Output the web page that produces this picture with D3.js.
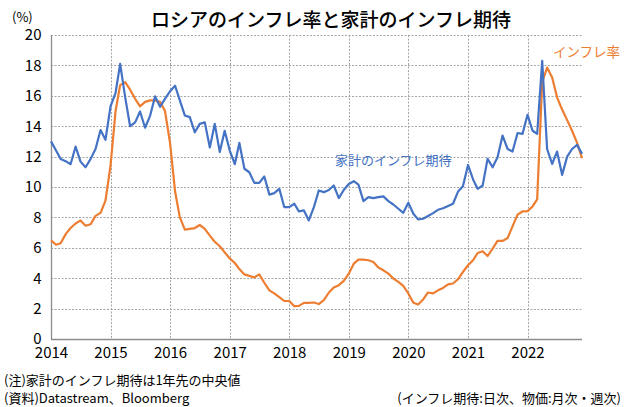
<!DOCTYPE html>
<html>
<head>
<meta charset="utf-8">
<script src="https://cdn.jsdelivr.net/npm/d3@7"></script>
<style>
  body { margin: 0; background: #fff; }
  text { font-family: "Noto Sans CJK JP", "Noto Sans", sans-serif; }
</style>
</head>
<body>
<div id="chart"></div>
<script>
// monthly points, first one sits on 2014-01
var startMonth = new Date(2014, 0, 1);

// household inflation expectations (1 year ahead, median), %
var expectations = [
  13.0, 12.4, 11.85, 11.7, 11.5, 12.66, 11.67, 11.3, 11.85, 12.5, 13.75, 13.1,
  15.3, 16.2, 18.1, 15.9, 14.0, 14.25, 14.97, 13.9, 14.7, 15.96, 15.28, 15.8,
  16.3, 16.66, 15.7, 14.7, 14.6, 13.6, 14.15, 14.25, 12.6, 14.15, 12.3, 13.7,
  12.4, 11.5, 12.9, 11.2, 10.97, 10.27, 10.27, 10.69, 9.5, 9.6, 9.88, 8.68,
  8.68, 8.9, 8.4, 8.46, 7.8, 8.68, 9.77, 9.66, 9.8, 10.1, 9.27, 9.8,
  10.2, 10.38, 10.16, 9.07, 9.33, 9.27, 9.33, 9.38, 9.07, 8.85, 8.57, 8.3,
  8.96, 8.24, 7.87, 7.91, 8.09, 8.28, 8.5, 8.6, 8.75, 8.9, 9.7, 10.05,
  11.45, 10.5, 9.88, 10.1, 11.85, 11.3, 11.95, 13.38, 12.5, 12.33, 13.55, 13.49,
  14.75, 13.7, 13.49, 18.3, 12.5, 11.52, 12.33, 10.8, 12.0, 12.5, 12.77, 12.18
];

// consumer price inflation, % y/y
var inflation = [
  6.5, 6.2, 6.3, 6.9, 7.3, 7.6, 7.8, 7.45, 7.55, 8.1, 8.3, 9.1,
  11.4, 15.0, 16.7, 16.9, 16.4, 15.8, 15.3, 15.6, 15.7, 15.7, 15.6, 15.0,
  12.9, 9.7, 8.0, 7.2, 7.25, 7.3, 7.5, 7.25, 6.8, 6.4, 6.1, 5.7,
  5.3, 5.0, 4.6, 4.25, 4.15, 4.05, 4.25, 3.7, 3.2, 3.0, 2.75, 2.5,
  2.5, 2.16, 2.18, 2.38, 2.38, 2.4, 2.3, 2.56, 3.06, 3.39, 3.54, 3.82,
  4.3, 4.96, 5.22, 5.22, 5.18, 5.07, 4.7, 4.52, 4.3, 3.98, 3.76, 3.5,
  3.0, 2.38, 2.27, 2.6, 3.06, 3.0, 3.2, 3.36, 3.59, 3.65, 3.93, 4.41,
  4.85, 5.18, 5.66, 5.77, 5.46, 5.95, 6.45, 6.45, 6.64, 7.41, 8.18, 8.39,
  8.41, 8.72, 9.18, 16.9, 17.86, 17.2, 15.9, 15.1, 14.4, 13.7, 12.9, 11.9
];

var yearTicks = [2014, 2015, 2016, 2017, 2018, 2019, 2020, 2021, 2022];
var yTicks = [0, 2, 4, 6, 8, 10, 12, 14, 16, 18, 20];

var width = 627,
    height = 407,
    plotLeft = 51,
    plotRight = 582,
    plotTop = 35,
    plotBottom = 339;

var blue = "#4472c4",
    orange = "#ed7d31";

function monthDate(i) {
  return d3.timeMonth.offset(startMonth, i);
}

var x = d3.scaleTime()
  .domain([startMonth, new Date(2022, 11, 1)])
  .range([plotLeft, plotRight]);

var y = d3.scaleLinear()
  .domain([0, 20])
  .range([plotBottom, plotTop]);

var svg = d3.select("#chart").append("svg")
  .attr("width", width)
  .attr("height", height);

// grid
svg.append("g")
  .selectAll("line")
  .data(yTicks.slice(1))
  .enter().append("line")
  .attr("x1", plotLeft)
  .attr("x2", plotRight)
  .attr("y1", function(d) { return Math.round(y(d)) + 0.5; })
  .attr("y2", function(d) { return Math.round(y(d)) + 0.5; })
  .style("stroke", "#a6a6a6")
  .style("stroke-dasharray", "2,1.5");

svg.append("g")
  .selectAll("line")
  .data(yearTicks.slice(1))
  .enter().append("line")
  .attr("x1", function(d) { return Math.round(x(new Date(d, 0, 1))) + 0.5; })
  .attr("x2", function(d) { return Math.round(x(new Date(d, 0, 1))) + 0.5; })
  .attr("y1", plotTop)
  .attr("y2", plotBottom)
  .style("stroke", "#a6a6a6")
  .style("stroke-dasharray", "2,1.5");

// axes
var xAxis = d3.axisBottom(x)
  .tickValues(yearTicks.map(function(d) { return new Date(d, 0, 1); }))
  .tickFormat(d3.timeFormat("%Y"))
  .tickSize(0)
  .tickPadding(8);

var gx = svg.append("g")
  .attr("transform", "translate(0," + (plotBottom + 0.5) + ")")
  .call(xAxis);
gx.select(".domain").attr("d", "M" + plotLeft + ",0H" + plotRight).style("stroke", "#8c8c8c").style("stroke-width", 1.3);
gx.selectAll("text").style("font-size", "15px").style("fill", "#000");

var yAxis = d3.axisLeft(y)
  .tickValues(yTicks)
  .tickSize(0)
  .tickPadding(10);

var gy = svg.append("g")
  .attr("transform", "translate(" + (plotLeft + 0.5) + ",0)")
  .call(yAxis);
gy.select(".domain").attr("d", "M0," + plotTop + "V" + plotBottom).style("stroke", "#8c8c8c").style("stroke-width", 1.3);
gy.selectAll("text").style("font-size", "15px").style("fill", "#000");

// lines
var line = d3.line()
  .x(function(d, i) { return x(monthDate(i)); })
  .y(function(d) { return y(d); });

svg.append("path")
  .datum(inflation)
  .attr("d", line)
  .style("fill", "none")
  .style("stroke", orange)
  .style("stroke-width", 2.2)
  .style("stroke-linejoin", "round");

svg.append("path")
  .datum(expectations)
  .attr("d", line)
  .style("fill", "none")
  .style("stroke", blue)
  .style("stroke-width", 2.2)
  .style("stroke-linejoin", "round");

// labels
svg.append("text")
  .attr("x", 331)
  .attr("y", 27)
  .attr("text-anchor", "middle")
  .style("font-size", "19px")
  .style("font-weight", 500)
  .text("ロシアのインフレ率と家計のインフレ期待");

svg.append("text")
  .attr("x", 12)
  .attr("y", 22)
  .style("font-size", "13px")
  .text("(%)");

svg.append("text")
  .attr("x", 553)
  .attr("y", 57)
  .style("font-size", "13.5px")
  .style("fill", orange)
  .text("インフレ率");

svg.append("text")
  .attr("x", 335)
  .attr("y", 165)
  .style("font-size", "13px")
  .style("fill", blue)
  .text("家計のインフレ期待");

svg.append("text")
  .attr("x", 4)
  .attr("y", 385)
  .style("font-size", "13px")
  .text("(注)家計のインフレ期待は1年先の中央値");

svg.append("text")
  .attr("x", 4)
  .attr("y", 403)
  .style("font-size", "13px")
  .text("(資料)Datastream、Bloomberg");

svg.append("text")
  .attr("x", 621)
  .attr("y", 403)
  .attr("text-anchor", "end")
  .style("font-size", "13px")
  .text("(インフレ期待:日次、物価:月次・週次)");
</script>
</body>
</html>
